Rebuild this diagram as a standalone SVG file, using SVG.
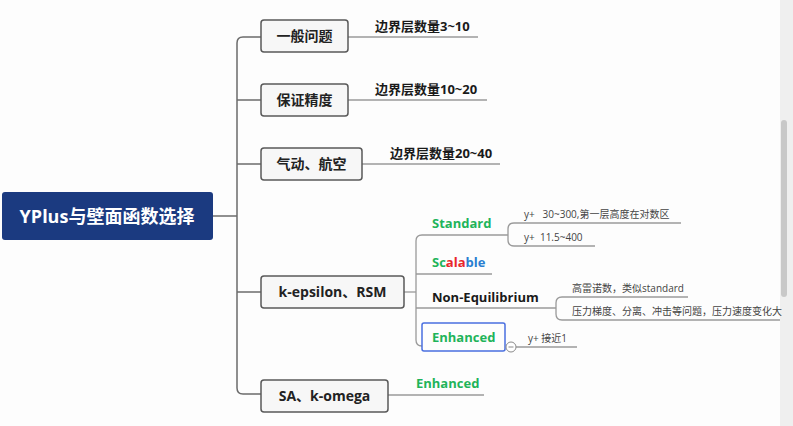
<svg xmlns="http://www.w3.org/2000/svg" width="793" height="426" viewBox="0 0 793 426">
<style>
  .bg{fill:#fdfdfd}
  .node rect{fill:#f7f7f7;stroke:#595959;stroke-width:1.5}
  .ntext{font-family:"Open Sans","Noto Sans CJK SC",sans-serif;font-weight:700;font-size:14px;fill:#222;text-anchor:middle}
  .conn{fill:none;stroke:#6b6b6b;stroke-width:1.5}
  .ul{fill:none;stroke:#9a9a9a;stroke-width:1.3}
  .lbl{font-family:"Open Sans","Noto Sans CJK SC",sans-serif;font-weight:700;font-size:13px;fill:#1a1a1a}
  .sub{font-family:"Open Sans","Noto Sans CJK SC",sans-serif;font-weight:700;font-size:13px}
  .small{font-family:"Open Sans","Noto Sans CJK SC",sans-serif;font-size:10px;fill:#444}
  .green{fill:#1fb45a}
  .red{fill:#e8262b}
  .blue{fill:#2a7fd0}
</style>
<rect class="bg" x="0" y="0" width="793" height="426"/>

<!-- scrollbar -->
<rect x="780" y="0" width="13" height="426" fill="#efefef"/>
<rect x="781" y="120" width="6" height="177" rx="3" fill="#c8c8c8"/>

<g id="connectors">
  <path class="conn" d="M213,216 H237"/>
  <path class="conn" d="M261,37 H243 Q237,37 237,43 V388 Q237,394 243,394 H261"/>
  <path class="conn" d="M237,100 H261"/>
  <path class="conn" d="M237,164 H261"/>
  <path class="conn" d="M237,292 H261"/>
  <path class="ul" d="M348,37 H478"/>
  <path class="ul" d="M348,100 H487"/>
  <path class="ul" d="M362,164 H500"/>
  <path class="ul" d="M388,395 H484"/>
  <path class="ul" d="M404,292 H416"/>
  <path class="ul" d="M508,235 H422 Q416,235 416,241 V340 Q416,346 422,346"/>
  <path class="ul" d="M416,274 H492"/>
  <path class="ul" d="M416,308 H556"/>
  <path class="ul" d="M681,223 H514 Q508,223 508,229 V240 Q508,246 514,246 H595"/>
  <path class="ul" d="M688,297 H562 Q556,297 556,303 V314 Q556,320 562,320 H780"/>
  <path class="ul" d="M516,347 H577"/>
</g>

<g id="root">
  <rect x="2" y="192" width="211" height="48" rx="3" fill="#1b3a80"/>
  <text x="107" y="223" font-family="'Open Sans','Noto Sans CJK SC',sans-serif" font-weight="700" font-size="18" fill="#ffffff" text-anchor="middle">YPlus与壁面函数选择</text>
</g>

<g id="n1" class="node">
  <rect x="261" y="20" width="87" height="32" rx="3"/>
  <text class="ntext" x="304.5" y="41">一般问题</text>
</g>
<g id="n1-label"><text class="lbl" x="375" y="31">边界层数量3~10</text></g>

<g id="n2" class="node">
  <rect x="261" y="84" width="87" height="32" rx="3"/>
  <text class="ntext" x="304.5" y="105">保证精度</text>
</g>
<g id="n2-label"><text class="lbl" x="375" y="94">边界层数量10~20</text></g>

<g id="n3" class="node">
  <rect x="261" y="148" width="101" height="32" rx="3"/>
  <text class="ntext" x="311.5" y="169">气动、航空</text>
</g>
<g id="n3-label"><text class="lbl" x="390" y="158">边界层数量20~40</text></g>

<g id="n4" class="node">
  <rect x="261" y="276" width="143" height="32" rx="3"/>
  <text class="ntext" x="332.5" y="297">k-epsilon、RSM</text>
</g>

<g id="n5" class="node">
  <rect x="261" y="380" width="127" height="32" rx="3"/>
  <text class="ntext" x="324.5" y="401">SA、k-omega</text>
</g>
<g id="n5-label"><text class="sub green" x="416" y="388">Enhanced</text></g>

<g id="standard">
  <text class="sub green" x="432" y="228">Standard</text>
</g>
<g id="standard-1"><text class="small" x="524" y="218" xml:space="preserve">y+   30~300,第一层高度在对数区</text></g>
<g id="standard-2"><text class="small" x="524" y="241" xml:space="preserve">y+  11.5~400</text></g>

<g id="scalable">
  <text class="sub" x="432" y="267"><tspan class="green">Sc</tspan><tspan class="red">ala</tspan><tspan class="blue">ble</tspan></text>
</g>

<g id="nonequilibrium">
  <text class="sub" x="432" y="302" fill="#1a1a1a">Non-Equilibrium</text>
</g>
<g id="noneq-1"><text class="small" x="572" y="292">高雷诺数，类似standard</text></g>
<g id="noneq-2"><text class="small" x="572" y="315">压力梯度、分离、冲击等问题，压力速度变化大</text></g>

<g id="enhanced">
  <rect x="422" y="323" width="83" height="28" rx="2" fill="none" stroke="#4a6fe0" stroke-width="1.5"/>
  <text class="sub green" x="432" y="342">Enhanced</text>
  <circle cx="511" cy="347" r="5" fill="#ffffff" stroke="#8a8a8a" stroke-width="1"/>
  <path d="M508.5,347 H513.5" stroke="#8a8a8a" stroke-width="1"/>
</g>
<g id="enhanced-1"><text class="small" x="528" y="342">y+ 接近1</text></g>
</svg>
